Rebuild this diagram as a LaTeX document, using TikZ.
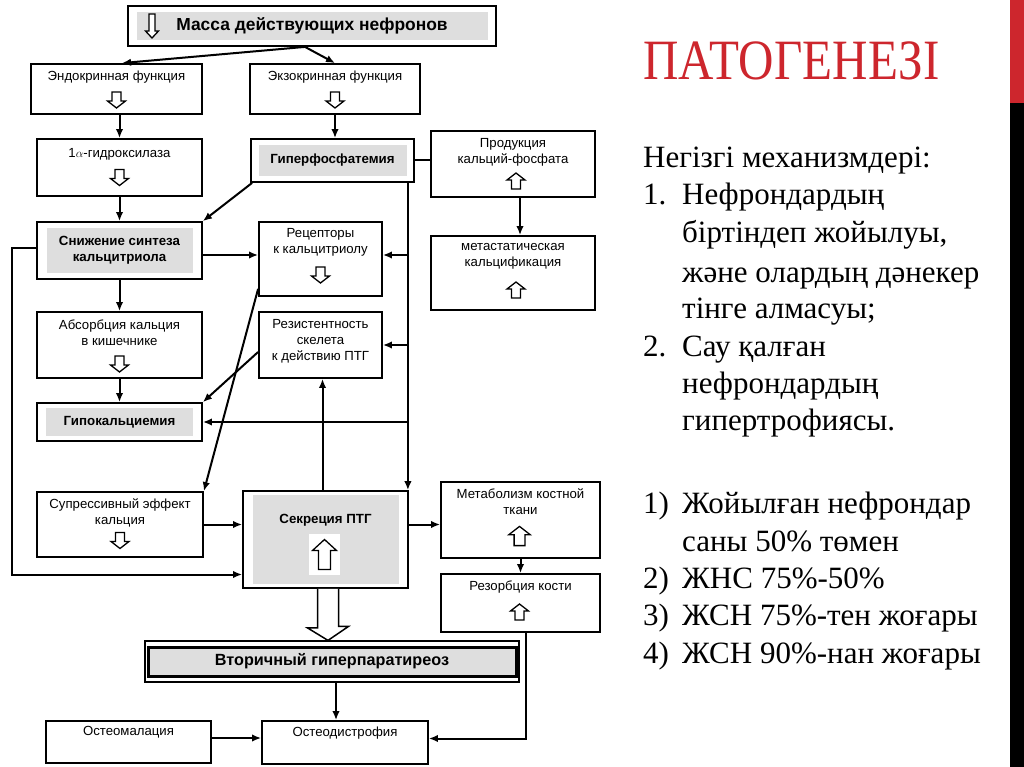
\documentclass[tikz,border=0pt]{standalone}
\usepackage{fontspec}
\setmainfont{Liberation Serif}
\newfontfamily\diagfont{Liberation Sans}
\newfontfamily\titlefont[FakeStretch=0.86]{Liberation Serif}
\usetikzlibrary{arrows.meta}
\definecolor{boxgray}{RGB}{222,222,222}
\definecolor{slidered}{RGB}{205,38,45}
\tikzset{>={Latex[length=9pt,width=7.5pt]}}
\newcommand\itemno[1]{\makebox[39pt][l]{#1}}

\tikzset{
  dnarr/.pic={\draw[line width=1.3pt, fill=white] (-4.5,-8) -- (4.5,-8) -- (4.5,1) -- (9,1) -- (0,8) -- (-9,1) -- (-4.5,1) -- cycle;},
  uparr/.pic={\draw[line width=1.3pt, fill=white] (-4.5,8) -- (4.5,8) -- (4.5,-1) -- (9,-1) -- (0,-8) -- (-9,-1) -- (-4.5,-1) -- cycle;},
  tallarr/.pic={\draw[line width=1.3pt, fill=white] (-3,-12) -- (3,-12) -- (3,5) -- (6.5,5) -- (0,12) -- (-6.5,5) -- (-3,5) -- cycle;},
  bigarr/.pic={\draw[line width=1.3pt, fill=white] (-6,15) -- (6,15) -- (6,-4) -- (12,-4) -- (0,-15) -- (-12,-4) -- (-6,-4) -- cycle;}
}

\begin{document}
\begin{tikzpicture}[x=1pt, y=-1pt]
  \tikzstyle{box}=[draw=black, line width=1.8pt, fill=white, inner sep=0pt]
  \tikzstyle{link}=[->, draw=black, line width=2pt]
  \tikzstyle{shade}=[fill=boxgray, inner sep=0pt, align=center, font=\diagfont\bfseries\fontsize{13.3}{16}\selectfont]
  \tikzstyle{lbl}=[inner sep=0pt, align=center, font=\diagfont\fontsize{13.2}{16}\selectfont]
  \tikzstyle{blbl}=[inner sep=0pt, align=center, font=\diagfont\bfseries\fontsize{13.3}{16}\selectfont]
  \tikzstyle{body}=[anchor=base west, inner sep=0pt, font=\fontsize{31}{37}\selectfont]

  \useasboundingbox (0,0) rectangle (1024,767);
  \fill[white] (0,0) rectangle (1024,767);

  % boxes of the scheme
  \node[box, minimum width=368, minimum height=40] (mass) at (312,26) {};
  \node[shade, minimum width=351, minimum height=28, font=\diagfont\bfseries\fontsize{17.4}{20}\selectfont] (massT) at (mass) {Масса действующих нефронов};
  \pic at (152,26) {tallarr};

  \node[box, minimum width=171, minimum height=50] (endo) at (116.5,89) {};
  \node[lbl] (endoT) at ([yshift=-14]endo.north) {Эндокринная функция};
  \pic at ([yshift=-11]endo.center) {dnarr};

  \node[box, minimum width=170, minimum height=50] (exo) at (335,89) {};
  \node[lbl] (exoT) at ([yshift=-14]exo.north) {Экзокринная функция};
  \pic at ([yshift=-11]exo.center) {dnarr};

  \node[box, minimum width=165, minimum height=57] (alpha) at (119.5,167.5) {};
  \node[lbl] (alphaT) at ([yshift=-16]alpha.north) {1$\alpha$-гидроксилаза};
  \pic at ([yshift=-10]alpha.center) {dnarr};

  \node[box, minimum width=163, minimum height=43] (hyper) at (332.5,160.5) {};
  \node[shade, minimum width=148, minimum height=31] (hyperT) at (hyper) {Гиперфосфатемия};

  \node[box, minimum width=164, minimum height=66] (prod) at (513,164) {};
  \node[lbl] (prodT) at ([yshift=-22]prod.north) {Продукция\\кальций-фосфата};
  \pic at ([xshift=3,yshift=-17]prod.center) {uparr};

  \node[box, minimum width=164, minimum height=74] (metast) at (513,273) {};
  \node[lbl] (metastT) at ([yshift=-21]metast.north) {метастатическая\\кальцификация};
  \pic at ([xshift=3,yshift=-17]metast.center) {uparr};

  \node[box, minimum width=165, minimum height=57] (snizh) at (119.5,250.5) {};
  \node[shade, minimum width=146, minimum height=45] (snizhT) at (snizh) {Снижение синтеза\\кальцитриола};

  \node[box, minimum width=123, minimum height=74] (recep) at (320.5,259) {};
  \node[lbl] (recepT) at ([yshift=-21]recep.north) {Рецепторы\\к кальцитриолу};
  \pic at ([yshift=-16]recep.center) {dnarr};

  \node[box, minimum width=165, minimum height=66] (absorb) at (119.5,345) {};
  \node[lbl] (absorbT) at ([yshift=-22]absorb.north) {Абсорбция кальция\\в кишечнике};
  \pic at ([yshift=-19]absorb.center) {dnarr};

  \node[box, minimum width=123, minimum height=66] (resist) at (320.5,345) {};
  \node[lbl] (resistT) at ([yshift=4]resist.center) {Резистентность\\скелета\\к действию ПТГ};

  \node[box, minimum width=165, minimum height=38] (hypoca) at (119.5,422) {};
  \node[shade, minimum width=147, minimum height=28] (hypocaT) at (hypoca) {Гипокальциемия};

  \node[box, minimum width=166, minimum height=65] (supr) at (120,524.5) {};
  \node[lbl] (suprT) at ([yshift=-21.5]supr.north) {Супрессивный эффект\\кальция};
  \pic at ([yshift=-16]supr.center) {dnarr};

  \node[box, minimum width=165, minimum height=97] (secr) at (325.5,539.5) {};
  \node[fill=boxgray, minimum width=146, minimum height=89, inner sep=0pt] (secrG) at (secr) {};
  \node[blbl] (secrT) at ([yshift=-30]secr.north) {Секреция ПТГ};
  \node[fill=white, minimum width=31, minimum height=41, inner sep=0pt] (secrW) at (324.5,554.5) {};
  \pic at (secrW) {bigarr};

  \node[box, minimum width=159, minimum height=76] (metab) at (520.5,520) {};
  \node[lbl] (metabT) at ([yshift=-21]metab.north) {Метаболизм костной\\ткани};
  \pic[scale=1.2] at ([xshift=-1,yshift=-16]metab.center) {uparr};

  \node[box, minimum width=159, minimum height=58] (rezorb) at (520.5,603) {};
  \node[lbl] (rezorbT) at ([yshift=-14]rezorb.north) {Резорбция кости};
  \pic at ([xshift=-1,yshift=-9]rezorb.center) {uparr};

  \node[box, line width=1.2pt, minimum width=374, minimum height=41] (vtor) at (332,661.5) {};
  \node[draw, line width=3pt, fill=boxgray, minimum width=368, minimum height=29, inner sep=0pt,
        font=\diagfont\bfseries\fontsize{16.2}{19}\selectfont] (vtorT) at (vtor) {Вторичный гиперпаратиреоз};

  \node[box, minimum width=165, minimum height=42] (malac) at (128.5,742) {};
  \node[lbl] (malacT) at ([yshift=-12]malac.north) {Остеомалация};

  \node[box, minimum width=166, minimum height=43] (dystr) at (345,742.5) {};
  \node[lbl] (dystrT) at ([yshift=-13]dystr.north) {Остеодистрофия};

  % connectors
  \coordinate (massOut) at ([xshift=-7]mass.south);
  \draw[link] (massOut) -- ([xshift=5.5]endo.north);
  \draw[link] (massOut) -- (exo.north);
  \draw[link] (endo.south -| alpha.north) -- (alpha.north);
  \draw[link] (exo.south) -- (exo.south |- hyper.north);
  \draw[link] (alpha) -- (snizh);
  \draw[link] ([xshift=2]hyper.south west) -- (snizh.north east);
  \draw[link, -] (hyper.east) -- (hyper.east -| prod.west);
  \draw[link] ([xshift=7]prod.south) -- ([xshift=7]metast.north);

  \coordinate (bus) at ([xshift=-7]hyper.south east);
  \coordinate (recW) at ([yshift=4]recep.west);
  \coordinate (recE) at ([yshift=4]recep.east);
  \draw[link] (bus) -- (bus |- secr.north);
  \draw[link] (bus |- recE) -- (recE);
  \draw[link] (bus |- resist.east) -- (resist.east);
  \draw[link] (bus |- hypoca.east) -- (hypoca.east);
  \draw[link] (snizh.east |- recW) -- (recW);

  \coordinate (secrLow) at ([yshift=-35]secr.west);
  \draw[link] ([yshift=3]snizh.west) -- ++(-24,0) |- (secrLow);
  \draw[link] (snizh) -- (absorb);
  \draw[link] (absorb) -- (hypoca);
  \draw[link] ([yshift=8]recep.south west) -- (supr.north east);
  \draw[link] ([yshift=-7]resist.west) -- (hypoca.north east);
  \draw[link] ([xshift=-3]secr.north) -- ([xshift=-3]secr.north |- resist.south);
  \draw[link] (supr.east) -- (supr.east -| secr.west);

  \coordinate (secrR) at ([yshift=15]secr.east);
  \draw[link] (secrR) -- (secrR -| metab.west);
  \draw[link] (metab) -- (rezorb);

  \coordinate (dystrR) at ([yshift=4]dystr.east);
  \draw[link] ([xshift=5]rezorb.south) |- (dystrR);
  \coordinate (malacR) at ([yshift=4]malac.east);
  \draw[link] (malacR) -- (malacR -| dystr.west);
  \draw[link] ([xshift=4]vtor.south) -- ([xshift=4]vtor.south |- dystr.north);

  % wide hollow arrow PTG -> hyperparathyroidism
  \coordinate (ptgtip) at ([xshift=-4]vtor.north);
  \coordinate (ptgbase) at (secr.south -| ptgtip);
  \draw[line width=1.5pt, fill=white] ([xshift=-10.5]ptgbase) -- ++(0,39) -- ++(-10,0) -- (ptgtip)
        -- ++(20.5,-14) -- ++(-10,0) -- ([xshift=10.5]ptgbase);

  % slide text
  \node[anchor=base west, inner sep=0pt, text=slidered, font=\titlefont\fontsize{57}{60}\selectfont] (title) at (643,80) {ПАТОГЕНЕЗІ};
  \node[body] (t0) at (643,168) {Негізгі механизмдері:};
  \node[body] (t1) at (643,205) {\itemno{1.}Нефрондардың};
  \node[body] (t2) at (682,243) {біртіндеп жойылуы,};
  \node[body] (t3) at (682,282) {және олардың дәнекер};
  \node[body] (t4) at (682,318) {тінге алмасуы;};
  \node[body] (t5) at (643,356) {\itemno{2.}Сау қалған};
  \node[body] (t6) at (682,393) {нефрондардың};
  \node[body] (t7) at (682,430) {гипертрофиясы.};
  \node[body] (s1) at (643,513) {\itemno{1)}Жойылған нефрондар};
  \node[body] (s2) at (682,551) {саны 50\% төмен};
  \node[body] (s3) at (643,588) {\itemno{2)}ЖНС 75\%-50\%};
  \node[body] (s4) at (643,625) {\itemno{3)}ЖСН 75\%-тен жоғары};
  \node[body] (s5) at (643,663) {\itemno{4)}ЖСН 90\%-нан жоғары};

  % side bar
  \fill[slidered] (1010,0) rectangle (1024,103);
  \fill[black] (1010,103) rectangle (1024,767);
\end{tikzpicture}
\end{document}
